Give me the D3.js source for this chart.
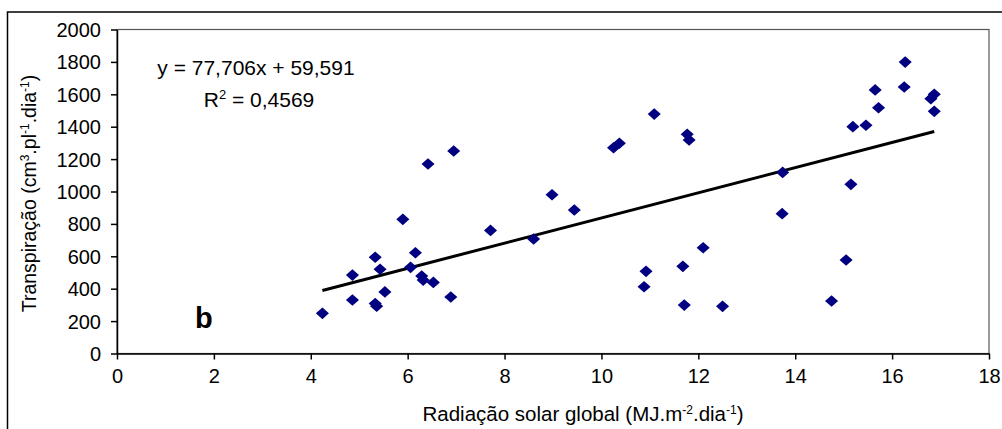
<!DOCTYPE html>
<html>
<head>
<meta charset="utf-8">
<script src="https://cdn.jsdelivr.net/npm/d3@7"></script>
<style>
  html, body { margin: 0; padding: 0; background: #fff; }
  svg { display: block; font-family: "Liberation Sans", Arial, sans-serif; }
</style>
</head>
<body>
<div id="chart"></div>
<script>
// radiação solar global (MJ.m-2.dia-1)
const radiacao = [
  4.24, 4.86, 4.86, 5.33, 5.43, 5.33, 5.36, 5.53, 5.90, 6.06,
  6.16, 6.29, 6.32, 6.42, 6.53, 6.89, 6.95, 7.71, 8.60, 8.98,
  9.44, 10.25, 10.37, 10.88, 10.92, 11.09, 11.68, 11.71, 11.77, 11.81,
  12.10, 12.50, 13.73, 13.74, 14.75, 15.05, 15.15, 15.19, 15.46, 15.65,
  15.72, 16.25, 16.27, 16.80, 16.87, 16.87
];
// transpiração (cm3.pl-1.dia-1)
const transpiracao = [
  248, 484, 330, 594, 520, 308, 292, 380, 828, 532,
  622, 478, 453, 1170, 439, 349, 1250, 760, 707, 980,
  886, 1270, 1298, 412, 507, 1478, 538, 299, 1353, 1318,
  653, 291, 863, 1118, 324, 577, 1044, 1400, 1409, 1627,
  1517, 1645, 1799, 1573, 1600, 1495
];
const xTicks = [0, 2, 4, 6, 8, 10, 12, 14, 16, 18];
const yTicks = [0, 200, 400, 600, 800, 1000, 1200, 1400, 1600, 1800, 2000];
const slope = 77.706, intercept = 59.591;
const eqLabel = 'y = 77,706x + 59,591';
const r2Label = ' = 0,4569';

const W = 1002, H = 429;
const m = { left: 117, top: 29.5, right: 989, bottom: 353.5 };

const svg = d3.select('#chart').append('svg')
  .attr('width', W).attr('height', H);

// outer chart frame
svg.append('path')
  .attr('d', `M7.5,${H + 2}V12H${W + 2}`)
  .attr('fill', 'none').attr('stroke', '#000').attr('stroke-width', 1.5);

const x = d3.scaleLinear().domain([0, 18]).range([m.left, m.right]);
const y = d3.scaleLinear().domain([0, 2000]).range([m.bottom, m.top]);

// plot area frame
svg.append('rect')
  .attr('x', m.left).attr('y', m.top)
  .attr('width', m.right - m.left).attr('height', m.bottom - m.top)
  .attr('fill', 'none').attr('stroke', '#555').attr('stroke-width', 1.2);

const xAxis = svg.append('g')
  .attr('transform', `translate(0,${m.bottom})`)
  .call(d3.axisBottom(x).tickValues(xTicks).tickFormat(d3.format('d'))
    .tickSize(6).tickPadding(9).tickSizeOuter(0));
const yAxis = svg.append('g')
  .attr('transform', `translate(${m.left},0)`)
  .call(d3.axisLeft(y).tickValues(yTicks).tickFormat(d3.format('d'))
    .tickSize(6).tickPadding(10).tickSizeOuter(0));

[xAxis, yAxis].forEach(g => {
  g.select('.domain').attr('stroke', '#000').attr('stroke-width', 1.5);
  g.selectAll('.tick line').attr('stroke', '#000').attr('stroke-width', 1.5);
  g.selectAll('.tick text')
    .attr('fill', '#000')
    .style('font-size', '20px')
    .style('font-family', '"Liberation Sans", Arial, sans-serif');
});
yAxis.selectAll('.tick text').attr('dy', '0.35em');

// regression line
const xMin = d3.min(radiacao), xMax = d3.max(radiacao);
svg.append('line')
  .attr('x1', x(xMin)).attr('y1', y(slope * xMin + intercept))
  .attr('x2', x(xMax)).attr('y2', y(slope * xMax + intercept))
  .attr('stroke', '#000').attr('stroke-width', 3);

// points
const pts = radiacao.map((v, i) => [v, transpiracao[i]]);
const diamond = d3.symbol().type(d3.symbolSquare).size(68);
svg.append('g').selectAll('path')
  .data(pts)
  .join('path')
  .attr('d', diamond)
  .attr('transform', d => `translate(${x(d[0])},${y(d[1])}) scale(1.12,1) rotate(45)`)
  .attr('fill', '#000080');

// equation
svg.append('text')
  .attr('x', 256).attr('y', 75)
  .attr('text-anchor', 'middle')
  .style('font-size', '21px')
  .text(eqLabel);
const r2 = svg.append('text')
  .attr('x', 259).attr('y', 107)
  .attr('text-anchor', 'middle')
  .style('font-size', '21px');
r2.append('tspan').text('R');
r2.append('tspan').attr('dy', -8).style('font-size', '13px').text('2');
r2.append('tspan').attr('dy', 8).text(r2Label);

// panel letter
svg.append('text')
  .attr('x', 195).attr('y', 328)
  .style('font-size', '29px').style('font-weight', 'bold')
  .text('b');

// axis titles
const xt = svg.append('text')
  .attr('x', 583).attr('y', 421)
  .attr('text-anchor', 'middle')
  .style('font-size', '20.5px');
xt.append('tspan').text('Radiação solar global (MJ.m');
xt.append('tspan').attr('dy', -7).style('font-size', '12px').text('-2');
xt.append('tspan').attr('dy', 7).text('.dia');
xt.append('tspan').attr('dy', -7).style('font-size', '12px').text('-1');
xt.append('tspan').attr('dy', 7).text(')');

const yt = svg.append('text')
  .attr('transform', `translate(36,${(m.top + m.bottom) / 2 + 2}) rotate(-90)`)
  .attr('text-anchor', 'middle')
  .style('font-size', '19.5px');
yt.append('tspan').text('Transpiração (cm');
yt.append('tspan').attr('dy', -7).style('font-size', '12px').text('3');
yt.append('tspan').attr('dy', 7).text('.pl');
yt.append('tspan').attr('dy', -7).style('font-size', '12px').text('-1');
yt.append('tspan').attr('dy', 7).text('.dia');
yt.append('tspan').attr('dy', -7).style('font-size', '12px').text('-1');
yt.append('tspan').attr('dy', 7).text(')');
</script>
</body>
</html>
